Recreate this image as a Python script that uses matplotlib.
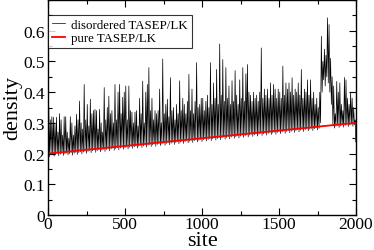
import numpy as np
import matplotlib
matplotlib.use("Agg")
import matplotlib.pyplot as plt
from matplotlib.ticker import MultipleLocator, FixedLocator, FixedFormatter

# ---------------- data ----------------
# disordered TASEP/LK: local maxima in 10-site bins (centre sites 5, 15, ... 1995)
dis_high = [
    0.35, 0.31, 0.32, 0.318, 0.30, 0.318, 0.27, 0.33, 0.31, 0.26,
    0.32, 0.32, 0.27, 0.25, 0.32, 0.30, 0.26, 0.29, 0.328, 0.31,
    0.371, 0.30, 0.28, 0.425, 0.31, 0.36, 0.29, 0.377, 0.33, 0.34,
    0.344, 0.34, 0.28, 0.344, 0.30, 0.27, 0.415, 0.31, 0.35, 0.387,
    0.33, 0.34, 0.30, 0.425, 0.31, 0.40, 0.425, 0.33, 0.383, 0.40,
    0.42, 0.31, 0.42, 0.34, 0.335, 0.30, 0.335, 0.34, 0.29, 0.38,
    0.33, 0.436, 0.30, 0.40, 0.425, 0.48, 0.34, 0.38, 0.31, 0.34,
    0.33, 0.34, 0.41, 0.30, 0.508, 0.33, 0.36, 0.377, 0.32, 0.447,
    0.34, 0.35, 0.31, 0.36, 0.33, 0.437, 0.34, 0.38, 0.36, 0.33,
    0.37, 0.458, 0.34, 0.41, 0.33, 0.37, 0.496, 0.35, 0.36, 0.38,
    0.38, 0.34, 0.37, 0.39, 0.35, 0.496, 0.36, 0.43, 0.38, 0.474,
    0.36, 0.557, 0.39, 0.506, 0.37, 0.48, 0.38, 0.42, 0.36, 0.437,
    0.37, 0.47, 0.39, 0.36, 0.44, 0.38, 0.48, 0.37, 0.46, 0.49,
    0.40, 0.39, 0.37, 0.40, 0.38, 0.39, 0.37, 0.40, 0.544, 0.38,
    0.41, 0.39, 0.41, 0.38, 0.43, 0.39, 0.425, 0.41, 0.38, 0.41,
    0.40, 0.38, 0.485, 0.39, 0.43, 0.41, 0.43, 0.40, 0.447, 0.39,
    0.41, 0.40, 0.43, 0.39, 0.474, 0.38, 0.41, 0.40, 0.44, 0.39,
    0.44, 0.38, 0.40, 0.36, 0.38, 0.35, 0.40, 0.582, 0.50, 0.54,
    0.52, 0.642, 0.62, 0.51, 0.45, 0.42, 0.33, 0.435, 0.40, 0.43,
    0.36, 0.34, 0.448, 0.44, 0.38, 0.36, 0.40, 0.38, 0.35, 0.31,
]
# disordered TASEP/LK: local minima at sites 0, 10, ... 2000
dis_low = [
    0.195, 0.190, 0.196, 0.199, 0.192, 0.197, 0.200, 0.193, 0.198, 0.201, 0.194, 0.199, 0.202, 0.196, 0.200, 0.203, 0.195, 0.201, 0.204, 0.197,
    0.203, 0.206, 0.199, 0.205, 0.208, 0.201, 0.207, 0.210, 0.203, 0.209, 0.212, 0.204, 0.210, 0.213, 0.206, 0.211, 0.214, 0.207, 0.213, 0.216,
    0.209, 0.215, 0.218, 0.211, 0.216, 0.219, 0.212, 0.218, 0.221, 0.214, 0.219, 0.222, 0.215, 0.221, 0.224, 0.217, 0.222, 0.225, 0.218, 0.224,
    0.227, 0.220, 0.225, 0.228, 0.221, 0.227, 0.230, 0.223, 0.228, 0.231, 0.224, 0.230, 0.233, 0.226, 0.231, 0.234, 0.227, 0.233, 0.236, 0.229,
    0.234, 0.237, 0.230, 0.236, 0.239, 0.232, 0.237, 0.240, 0.233, 0.239, 0.242, 0.235, 0.240, 0.243, 0.236, 0.242, 0.245, 0.238, 0.243, 0.246,
    0.239, 0.245, 0.248, 0.241, 0.246, 0.249, 0.242, 0.248, 0.251, 0.244, 0.249, 0.252, 0.245, 0.251, 0.254, 0.247, 0.252, 0.255, 0.248, 0.254,
    0.257, 0.250, 0.255, 0.258, 0.251, 0.257, 0.260, 0.253, 0.258, 0.261, 0.254, 0.260, 0.263, 0.256, 0.261, 0.264, 0.257, 0.263, 0.266, 0.259,
    0.264, 0.267, 0.260, 0.266, 0.269, 0.262, 0.267, 0.270, 0.263, 0.269, 0.272, 0.265, 0.270, 0.273, 0.266, 0.272, 0.275, 0.268, 0.273, 0.276,
    0.269, 0.275, 0.278, 0.271, 0.276, 0.279, 0.272, 0.278, 0.281, 0.274, 0.279, 0.282, 0.275, 0.281, 0.284, 0.277, 0.282, 0.300, 0.400, 0.440,
    0.420, 0.450, 0.430, 0.400, 0.360, 0.290, 0.283, 0.289, 0.292, 0.285, 0.290, 0.293, 0.286, 0.292, 0.295, 0.288, 0.293, 0.296, 0.289, 0.294, 0.297,
]
# pure TASEP/LK profile
pure_sites = [0, 1, 1999, 2000]
pure_density = [0.0, 0.200, 0.300, 0.240]

x_ticks = [0, 500, 1000, 1500, 2000]
x_labels = ["0", "500", "1000", "1500", "2000"]
y_ticks = [0.0, 0.1, 0.2, 0.3, 0.4, 0.5, 0.6]
y_labels = ["0", "0.1", "0.2", "0.3", "0.4", "0.5", "0.6"]

# ---------------- build the zig-zag trace ----------------
low_sites = np.arange(0, 2001, 10)
high_sites = np.arange(5, 2000, 10)
xs = np.empty(len(low_sites) + len(high_sites))
ys = np.empty_like(xs)
xs[0::2] = low_sites
xs[1::2] = high_sites
ys[0::2] = dis_low
ys[1::2] = dis_high

plt.rcParams["font.family"] = ["Liberation Serif", "DejaVu Serif"]

fig = plt.figure(figsize=(3.74, 2.51), dpi=100)
ax = fig.add_axes([48 / 374, 35 / 251, 308 / 374, 215 / 251])

ax.plot(xs, ys, color="black", lw=0.5, label="disordered TASEP/LK")
ax.plot(pure_sites, pure_density, color="red", lw=1.3, label="pure TASEP/LK")

ax.set_xlim(0, 2000)
ax.set_ylim(0, 0.7)
ax.xaxis.set_major_locator(FixedLocator(x_ticks))
ax.xaxis.set_major_formatter(FixedFormatter(x_labels))
ax.xaxis.set_minor_locator(MultipleLocator(250))
ax.yaxis.set_major_locator(FixedLocator(y_ticks))
ax.yaxis.set_major_formatter(FixedFormatter(y_labels))
ax.yaxis.set_minor_locator(MultipleLocator(0.05))

ax.tick_params(which="both", direction="in", top=True, right=True,
               labelsize=12.5, width=0.8)
ax.tick_params(which="major", length=5, pad=2)
ax.tick_params(axis="x", which="major", pad=1)
ax.tick_params(which="minor", length=3)
for sp in ax.spines.values():
    sp.set_linewidth(1.0)

ax.set_xlabel("site", fontsize=16)
ax.xaxis.set_label_coords(0.5, -(246 - 216) / 215, transform=ax.transAxes)
ax.xaxis.label.set_va("baseline")
ax.set_ylabel("density", fontsize=16, labelpad=1)

leg = ax.legend(loc="upper left", bbox_to_anchor=(0, 1 - 15 / 215),
                borderaxespad=0, fontsize=9.3, frameon=True, fancybox=False,
                handlelength=1.0, handletextpad=0.5, borderpad=0.3,
                labelspacing=0.1)
leg.get_frame().set_edgecolor("black")
leg.get_frame().set_linewidth(0.8)

fig.savefig("out.png", dpi=100)
